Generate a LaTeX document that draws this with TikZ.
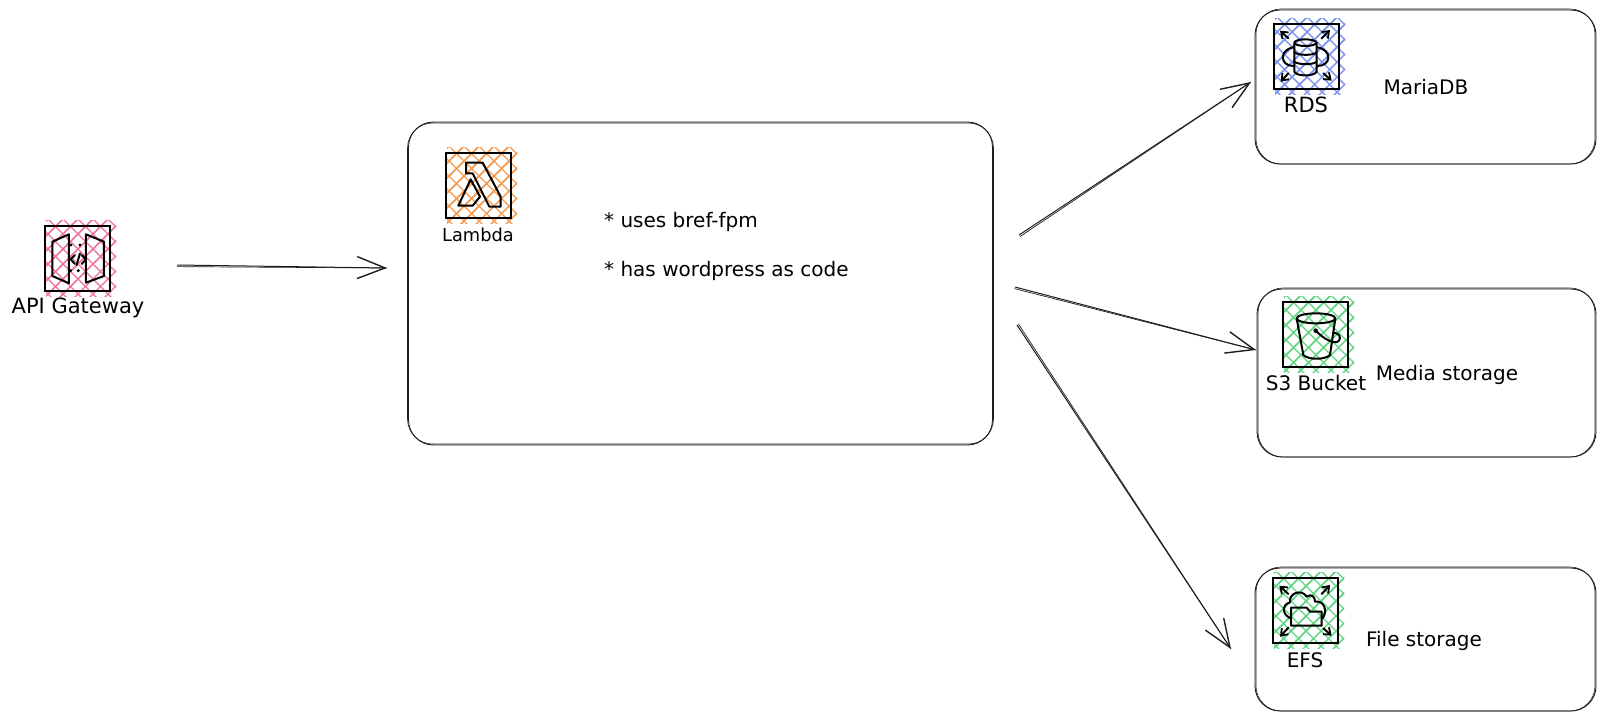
\documentclass[tikz,border=0pt]{standalone}
\usepackage{fontspec}
\setmainfont{DejaVu Sans}
\usetikzlibrary{arrows.meta}
\definecolor{inkc}{HTML}{1E1E1E}
\definecolor{pinkh}{HTML}{F0709A}
\definecolor{orangeh}{HTML}{F79A4E}
\definecolor{blueh}{HTML}{7F95F0}
\definecolor{greenh}{HTML}{62D481}
\tikzset{
  panel/.style={draw=inkc,line width=.9pt,rounded corners=25pt,inner sep=0pt,outer sep=0pt,anchor=north west},
  sketchline/.style={draw=inkc,line width=.6pt,rounded corners=25pt},
  iconbox/.style={draw=black,line width=2pt,inner sep=0pt,outer sep=0pt,anchor=north west,minimum width=65pt,minimum height=65pt},
  flow/.style={draw=inkc,line width=1pt,-{Straight Barb[length=28pt,width=22pt,line width=1.4pt]}},
  flowb/.style={draw=inkc,line width=.7pt},
  glyph/.style={draw=black,line width=2pt,line join=round,line cap=round},
  mini/.style={glyph,-{Straight Barb[length=6pt,width=9pt,line width=1.8pt]}},
  lab/.style={text=black,inner sep=0pt,font=\fontsize{20}{24}\selectfont},
  labs/.style={text=black,inner sep=0pt,font=\fontsize{17.8}{22}\selectfont},
  labl/.style={text=black,inner sep=0pt,font=\fontsize{21}{24}\selectfont}
}
\newcommand{\hatchfill}[3]{%
  \begin{scope}
    \clip (#1+1,#2-6) rectangle (#1+71,#2+70);
    \foreach \d in {-90,-75,...,90}{
      \draw[#3,line width=1.4pt] (#1+\d,#2-10) -- ++(90,90);
      \draw[#3,line width=1.4pt] (#1+\d+6,#2-10) -- ++(-90,90);
      \draw[#3,line width=1.4pt] (#1+\d+96,#2-10) -- ++(-90,90);
    }
  \end{scope}}
\begin{document}
\begin{tikzpicture}[x=1pt,y=-1pt]
\useasboundingbox (0,0) rectangle (1606,721);
\fill[white] (0,0) rectangle (1606,721);
% panels
\node[panel,minimum width=584pt,minimum height=323pt] (lam) at (408.5,122) {};
\node[panel,minimum width=341pt,minimum height=154pt] (rdsp) at (1255,10) {};
\node[panel,minimum width=339pt,minimum height=168pt] (s3p) at (1257,289) {};
\node[panel,minimum width=341pt,minimum height=143pt] (efsp) at (1255,568) {};
\draw[sketchline] ([shift={(-1,1)}]lam.north west) rectangle ([shift={(1,-1)}]lam.south east);
\draw[sketchline] ([shift={(1,-1)}]rdsp.north west) rectangle ([shift={(-1,0)}]rdsp.south east);
\draw[sketchline] ([shift={(1,-1)}]s3p.north west) rectangle ([shift={(-1,0)}]s3p.south east);
\draw[sketchline] ([shift={(1,-1)}]efsp.north west) rectangle ([shift={(-1,0)}]efsp.south east);
% hatching
\hatchfill{45}{226}{pinkh}
\hatchfill{446}{153}{orangeh}
\hatchfill{1274}{24}{blueh}
\hatchfill{1283}{302}{greenh}
\hatchfill{1273}{578}{greenh}
% icon frames
\node[iconbox] (api) at (45,226) {};
\node[iconbox] (lambda) at (446,153) {};
\node[iconbox] (rds) at (1274,24) {};
\node[iconbox] (s3) at (1283,302) {};
\node[iconbox] (efs) at (1273,578) {};
% API Gateway glyph
\begin{scope}[shift={(0,200)},x=.3333pt,y=-.3333pt]
  \draw[glyph] (157,125) -- (207,103) -- (207,250) -- (157,228) -- cycle;
  \draw[glyph] (258,103) -- (312,125) -- (312,228) -- (258,248) -- cycle;
  \draw[glyph] (225,165) -- (212,178) -- (225,192);
  \draw[glyph] (245,165) -- (258,178) -- (245,192);
  \draw[glyph] (240,160) -- (230,195);
  \foreach \p in {(213,135),(240,135),(235,212),(212,212)} \fill[black] \p circle (5);
\end{scope}
% Lambda glyph
\begin{scope}[shift={(430,140)},x=.3333pt,y=-.3333pt]
  \draw[glyph] (108,68) -- (158,68) -- (212,170) -- (212,200) -- (178,200) -- (128,100) -- (108,100) -- cycle;
  \draw[glyph] (122,118) -- (150,170) -- (128,197) -- (85,197) -- cycle;
\end{scope}
% RDS glyph
\begin{scope}[shift={(1260,10)},x=.3333pt,y=-.3333pt]
  \draw[glyph] (136,98) ellipse (33 and 10);
  \draw[glyph] (103,98) -- (103,185) .. controls (110,200) and (162,200) .. (170,185) -- (170,98);
  \draw[glyph] (103,127) .. controls (115,137) and (160,137) .. (170,127);
  \draw[glyph] (103,155) .. controls (115,165) and (160,165) .. (170,155);
  \draw[glyph] (100,112) .. controls (56,120) and (60,168) .. (100,168);
  \draw[glyph] (172,112) .. controls (218,120) and (214,168) .. (172,168);
  \draw[mini] (85,85) -- (60,62);
  \draw[mini] (185,85) -- (210,60);
  \draw[mini] (85,190) -- (62,215);
  \draw[mini] (190,190) -- (215,212);
\end{scope}
% S3 glyph
\begin{scope}[shift={(1260,290)},x=.3333pt,y=-.3333pt]
  \draw[glyph] (168,85) ellipse (58 and 15);
  \draw[glyph] (110,85) -- (130,195) .. controls (145,210) and (195,210) .. (210,195) -- (226,85);
  \draw[glyph] (167,122) .. controls (195,150) and (225,165) .. (237,152) .. controls (245,140) and (235,128) .. (220,128);
  \fill[black] (167,122) circle (7);
\end{scope}
% EFS glyph
\begin{scope}[shift={(1260,565)},x=.3333pt,y=-.3333pt]
  \draw[glyph] (93,160) .. controls (65,150) and (65,118) .. (90,112) .. controls (85,85) and (125,70) .. (140,95) .. controls (155,85) and (165,95) .. (165,110) .. controls (190,105) and (205,135) .. (188,160);
  \draw[glyph] (93,182) -- (93,128) -- (140,128) -- (150,140) -- (185,140) -- (185,182) -- cycle;
  \draw[mini] (85,87) -- (58,62);
  \draw[mini] (185,87) -- (210,60);
  \draw[mini] (85,188) -- (60,215);
  \draw[mini] (190,190) -- (215,212);
\end{scope}
% labels
\node[labl] (tapi) at (78,308) {API Gateway};
\node[labs] (tlam) at (478,235) {Lambda};
\node[labl] (trds) at (1306,105) {RDS};
\node[lab] (ts3) at (1316,383) {S3 Bucket};
\node[lab] (tefs) at (1305,660) {EFS};
\node[lab,anchor=west] (t1) at (604,222) {* uses bref-fpm};
\node[lab,anchor=west] (t2) at (604,271) {* has wordpress as code};
\node[lab] (tm) at (1426,87) {MariaDB};
\node[lab] (tst) at (1447,375) {Media storage};
\node[lab] (tf) at (1424,641) {File storage};
% connectors
\coordinate (a0) at (177,265);
\coordinate (a1) at (387,268);
\coordinate (b0) at (1019,235);
\coordinate (b1) at (1251,82);
\coordinate (c0) at (1015,287);
\coordinate (c1) at (1256,350);
\coordinate (d0) at (1017,325);
\coordinate (d1) at (1231,649);
\foreach \s/\e/\o in {a0/a1/{(0,1.6)},b0/b1/{(1,1.5)},c0/c1/{(-.5,1.6)},d0/d1/{(1.4,-1)}}{
  \draw[flow] (\s) -- (\e);
  \draw[flowb] ([shift=\o]\s) -- (\e);
}
\end{tikzpicture}
\end{document}
